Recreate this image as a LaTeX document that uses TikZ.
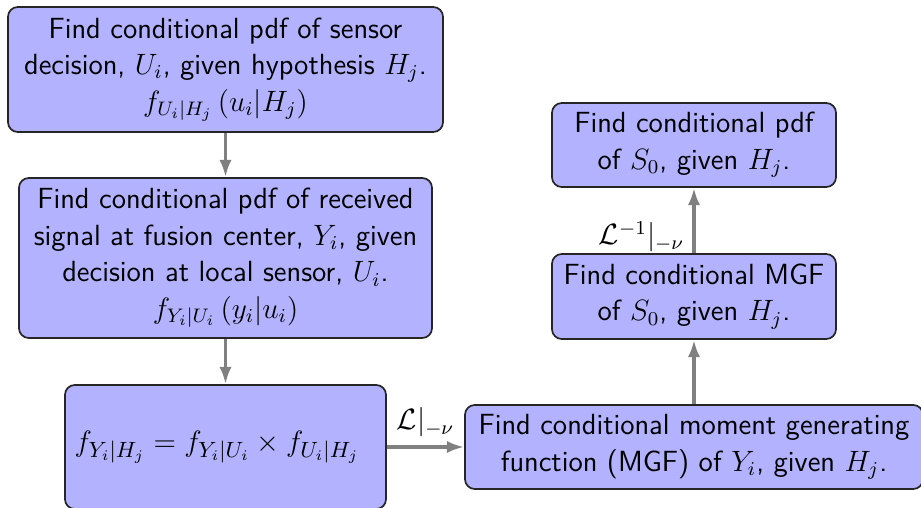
\documentclass[tikz,border=0pt]{standalone}
\usepackage{amsmath}
\usetikzlibrary{arrows.meta}
\begin{document}
\begin{tikzpicture}[x=0.408pt,y=-0.408pt,
  box/.style={draw=black!85, line width=0.7pt, fill=blue!30, rounded corners=4pt,
    align=center, inner sep=0pt, font=\sffamily\fontsize{11.9}{14.9}\selectfont},
  conn/.style={draw=gray, line width=1.4pt, -{Latex[length=7pt,width=5pt]}},
  lbl/.style={font=\fontsize{11.9}{14}\selectfont}]
\useasboundingbox (0,0) rectangle (921,508);
\node[box, minimum width=435*0.408pt, minimum height=125*0.408pt] (A) at (225.5,69.5)
  {Find conditional pdf of sensor\\ decision, $U_i$, given hypothesis $H_j$.\\ $f_{U_i|H_j}\left(u_i|H_j\right)$};
\node[box, minimum width=413*0.408pt, minimum height=160*0.408pt] (B) at (225.5,258)
  {Find conditional pdf of received\\ signal at fusion center, $Y_i$, given\\ decision at local sensor, $U_i$.\\ $f_{Y_i|U_i}\left(y_i|u_i\right)$};
\node[box, minimum width=321*0.408pt, minimum height=124*0.408pt] (C) at (225.5,447)
  {\raisebox{-3.5pt}{\fontsize{12.3}{14}\selectfont$f_{Y_i|H_j}=f_{Y_i|U_i}\times f_{U_i|H_j}$}\hspace{7pt}};
\node[box, minimum width=458*0.408pt, minimum height=84*0.408pt] (F) at (694,447)
  {Find conditional moment generating\\ function (MGF) of $Y_i$, given $H_j$.};
\node[box, minimum width=284*0.408pt, minimum height=85*0.408pt] (E) at (694,296.5)
  {Find conditional MGF\\ of $S_0$, given $H_j$.};
\node[box, minimum width=284*0.408pt, minimum height=84*0.408pt] (D) at (694,145)
  {Find conditional pdf\\ of $S_0$, given $H_j$.};
\draw[conn] (A) -- (B);
\draw[conn] (B) -- (C);
\draw[conn] (C) -- node[lbl, above] {$\mathcal{L}|_{-\nu}$} (F);
\draw[conn] (F) -- (E);
\draw[conn] (E) -- node[lbl, pos=0.25, left] {$\mathcal{L}^{-1}|_{-\nu}$} (D);
\end{tikzpicture}
\end{document}
